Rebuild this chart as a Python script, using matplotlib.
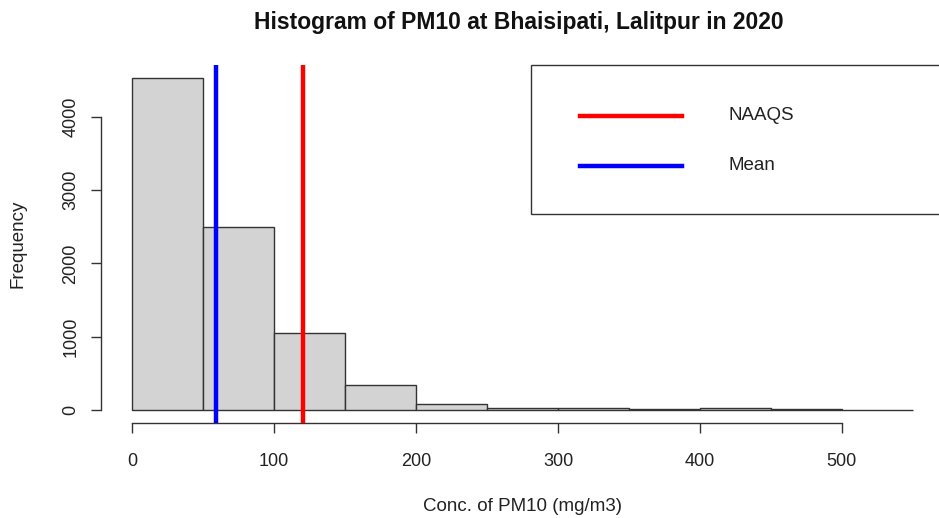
import numpy as np
import matplotlib
matplotlib.use('Agg')
import matplotlib.pyplot as plt
from matplotlib.patches import Rectangle
from matplotlib.lines import Line2D

# histogram of PM10 (bin edges in ug/m3, counts per bin)
bin_edges = [0, 50, 100, 150, 200, 250, 300, 350, 400, 450, 500, 550]
counts = [4532, 2498, 1050, 341, 82, 28, 25, 6, 24, 6, 0]
mean_pm10 = 59
naaqs = 120
x_ticks = [0, 100, 200, 300, 400, 500]
y_ticks = [0, 1000, 2000, 3000, 4000]

W, H = 939, 518
plt.rcParams['font.family'] = ['Liberation Sans', 'DejaVu Sans']

fig = plt.figure(figsize=(W / 100, H / 100), dpi=100)
# plot region in pixels (R-style: 4% padding around data range)
x0, x1, ytop, ybot = 101, 944, 65, 423
ax = fig.add_axes([x0 / W, 1 - ybot / H, (x1 - x0) / W, (ybot - ytop) / H])
ax.set_xlim(-22, 572)
ax.set_ylim(-181, 4713)

widths = np.diff(bin_edges)
ax.bar(bin_edges[:-1], counts, width=widths, align='edge', color='#d3d3d3',
       edgecolor='#333333', linewidth=1.0, zorder=2)

ax.axvline(naaqs, color='#ff0000', lw=3.2, zorder=3)
ax.axvline(mean_pm10, color='#0000ff', lw=3.2, zorder=3)

for s in ('top', 'right'):
    ax.spines[s].set_visible(False)
ax.spines['left'].set_bounds(0, 4000)
ax.spines['bottom'].set_bounds(0, 500)
for s in ('left', 'bottom'):
    ax.spines[s].set_color('#333333')
    ax.spines[s].set_linewidth(1.0)
ax.set_xticks(x_ticks)
ax.set_yticks(y_ticks)
ax.set_yticklabels([str(v) for v in y_ticks], rotation=90, va='center')
ax.tick_params(length=7.5, width=1.0, color='#333333', labelsize=13,
               labelcolor='#222222')
ax.tick_params(axis='x', pad=14)
ax.tick_params(axis='y', pad=8)
ax.set_xlabel('Conc. of PM10 (mg/m3)', fontsize=13.5, color='#222222', labelpad=20)
ax.set_ylabel('Frequency', fontsize=13.5, color='#222222', labelpad=26)
fig.text(0.5 * (248 + 790) / W, 1 - 22 / H, 'Histogram of PM10 at Bhaisipati, Lalitpur in 2020',
         ha='center', va='center', fontsize=16.5, fontweight='bold', color='#111111')

# legend box (drawn in pixel coordinates of the figure)
def fx(px):
    return px / W


def fy(py):
    return 1 - py / H


fig.patches.append(Rectangle((fx(531), fy(214)), fx(940) - fx(531), fy(65) - fy(214),
                             transform=fig.transFigure, fill=False,
                             edgecolor='#333333', lw=1.0))
for y, c, lab in [(116, '#ff0000', 'NAAQS'), (166, '#0000ff', 'Mean')]:
    fig.lines.append(Line2D([fx(580), fx(682)], [fy(y), fy(y)],
                            transform=fig.transFigure, color=c, lw=3.2))
    fig.text(fx(728), fy(y), lab, ha='left', va='center', fontsize=13.5,
             color='#222222')

fig.savefig('out.png', dpi=100)
